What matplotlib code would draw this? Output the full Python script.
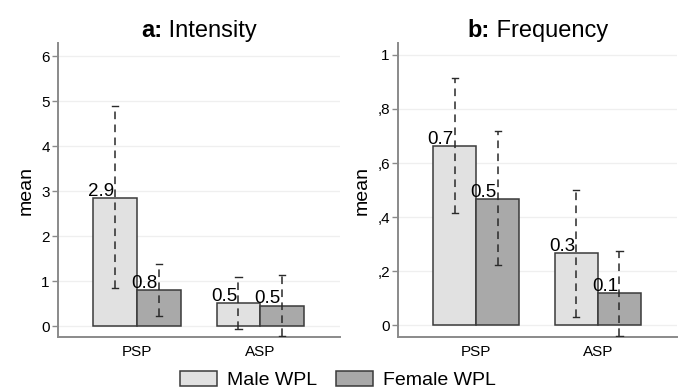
import numpy as np
import matplotlib
matplotlib.use("Agg")
import matplotlib.pyplot as plt
from matplotlib.patches import Patch

plt.rcParams['font.family'] = ['Liberation Sans', 'DejaVu Sans']

# data
categories = ['PSP', 'ASP']
groups = ['Male WPL', 'Female WPL']

int_male = [2.85, 0.52]
int_female = [0.81, 0.46]
int_male_lo = [0.84, -0.07]
int_male_hi = [4.89, 1.10]
int_female_lo = [0.23, -0.22]
int_female_hi = [1.38, 1.13]
int_labels_male = ['2.9', '0.5']
int_labels_female = ['0.8', '0.5']

freq_male = [0.664, 0.267]
freq_female = [0.467, 0.118]
freq_male_lo = [0.415, 0.031]
freq_male_hi = [0.915, 0.50]
freq_female_lo = [0.222, -0.04]
freq_female_hi = [0.719, 0.276]
freq_labels_male = ['0.7', '0.3']
freq_labels_female = ['0.5', '0.1']

int_ticks = [0, 1, 2, 3, 4, 5, 6]
int_ticklabels = ['0', '1', '2', '3', '4', '5', '6']
freq_ticks = [0, 0.2, 0.4, 0.6, 0.8, 1.0]
freq_ticklabels = ['0', ',2', ',4', ',6', ',8', '1']

male_col = '#e1e1e1'
female_col = '#a9a9a9'
edge_col = '#3a3a3a'
axis_col = '#8a8a8a'


def draw_panel(ax, males, females, m_lo, m_hi, f_lo, f_hi,
               m_lab, f_lab, ticks, ticklabels, ylim):
    x = np.arange(len(categories))
    w = 0.354
    xm = x - w / 2
    xf = x + w / 2
    for t in ticks:
        ax.axhline(t, color='#efefef', lw=0.9, zorder=0)
    ax.bar(xm, males, w, color=male_col, edgecolor=edge_col, lw=1.1, zorder=2)
    ax.bar(xf, females, w, color=female_col, edgecolor=edge_col, lw=1.1, zorder=2)
    for xs, lo, hi in [(xm, m_lo, m_hi), (xf, f_lo, f_hi)]:
        for xi, l, h in zip(xs, lo, hi):
            ax.plot([xi, xi], [l, h], color='#2a2a2a', lw=1.1, ls=(0, (5, 3.5)), zorder=3)
            for yy in (l, h):
                ax.plot([xi - 0.025, xi + 0.025], [yy, yy], color='#2a2a2a', lw=1.0, zorder=3)
    for xs, vals, labs in [(xm, males, m_lab), (xf, females, f_lab)]:
        for xi, v, s in zip(xs, vals, labs):
            ax.annotate(s, (xi, v), xytext=(-1, 1.5), textcoords='offset points',
                        ha='right', va='baseline', fontsize=13.5, zorder=4)
    ax.set_xlim(-0.64, 1.648)
    ax.set_ylim(*ylim)
    ax.set_xticks(x)
    ax.set_xticklabels(categories, fontsize=11)
    ax.tick_params(axis='x', length=0, pad=6)
    ax.set_yticks(ticks)
    ax.set_yticklabels(ticklabels, fontsize=11)
    ax.tick_params(axis='y', length=4, color=axis_col, width=1, pad=2)
    for side in ['top', 'right']:
        ax.spines[side].set_visible(False)
    for side in ['left', 'bottom']:
        ax.spines[side].set_color(axis_col)
        ax.spines[side].set_linewidth(1.4)
    ax.set_ylabel('mean', fontsize=14, labelpad=5)


def panel_title(fig, ax, bold, rest):
    r = fig.canvas.get_renderer()
    y = 1 - 37 / 391
    t1 = fig.text(0, y, bold, fontsize=17, fontweight='bold', va='baseline')
    t2 = fig.text(0, y, rest, fontsize=17, va='baseline')
    w1 = t1.get_window_extent(r).width / fig.bbox.width
    w2 = t2.get_window_extent(r).width / fig.bbox.width
    pos = ax.get_position()
    cx = pos.x0 + pos.width / 2
    start = cx - (w1 + w2) / 2
    t1.set_x(start)
    t2.set_x(start + w1)


fig = plt.figure(figsize=(6.83, 3.91), dpi=100)
ax1 = fig.add_axes([0.085, 0.138, 0.413, 0.752])
ax2 = fig.add_axes([0.583, 0.138, 0.408, 0.752])

draw_panel(ax1, int_male, int_female, int_male_lo, int_male_hi,
           int_female_lo, int_female_hi, int_labels_male, int_labels_female,
           int_ticks, int_ticklabels, (-0.24, 6.29))
draw_panel(ax2, freq_male, freq_female, freq_male_lo, freq_male_hi,
           freq_female_lo, freq_female_hi, freq_labels_male, freq_labels_female,
           freq_ticks, freq_ticklabels, (-0.044, 1.044))

panel_title(fig, ax1, 'a:', ' Intensity')
panel_title(fig, ax2, 'b:', ' Frequency')

handles = [Patch(facecolor=male_col, edgecolor=edge_col, lw=1.1),
           Patch(facecolor=female_col, edgecolor=edge_col, lw=1.1)]
fig.legend(handles, groups, loc='lower center', bbox_to_anchor=(0.495, -0.04), ncol=2,
           frameon=False, fontsize=14, handlelength=1.9, handleheight=0.85,
           columnspacing=1.0, handletextpad=0.5)

fig.savefig('out.png', dpi=100)
